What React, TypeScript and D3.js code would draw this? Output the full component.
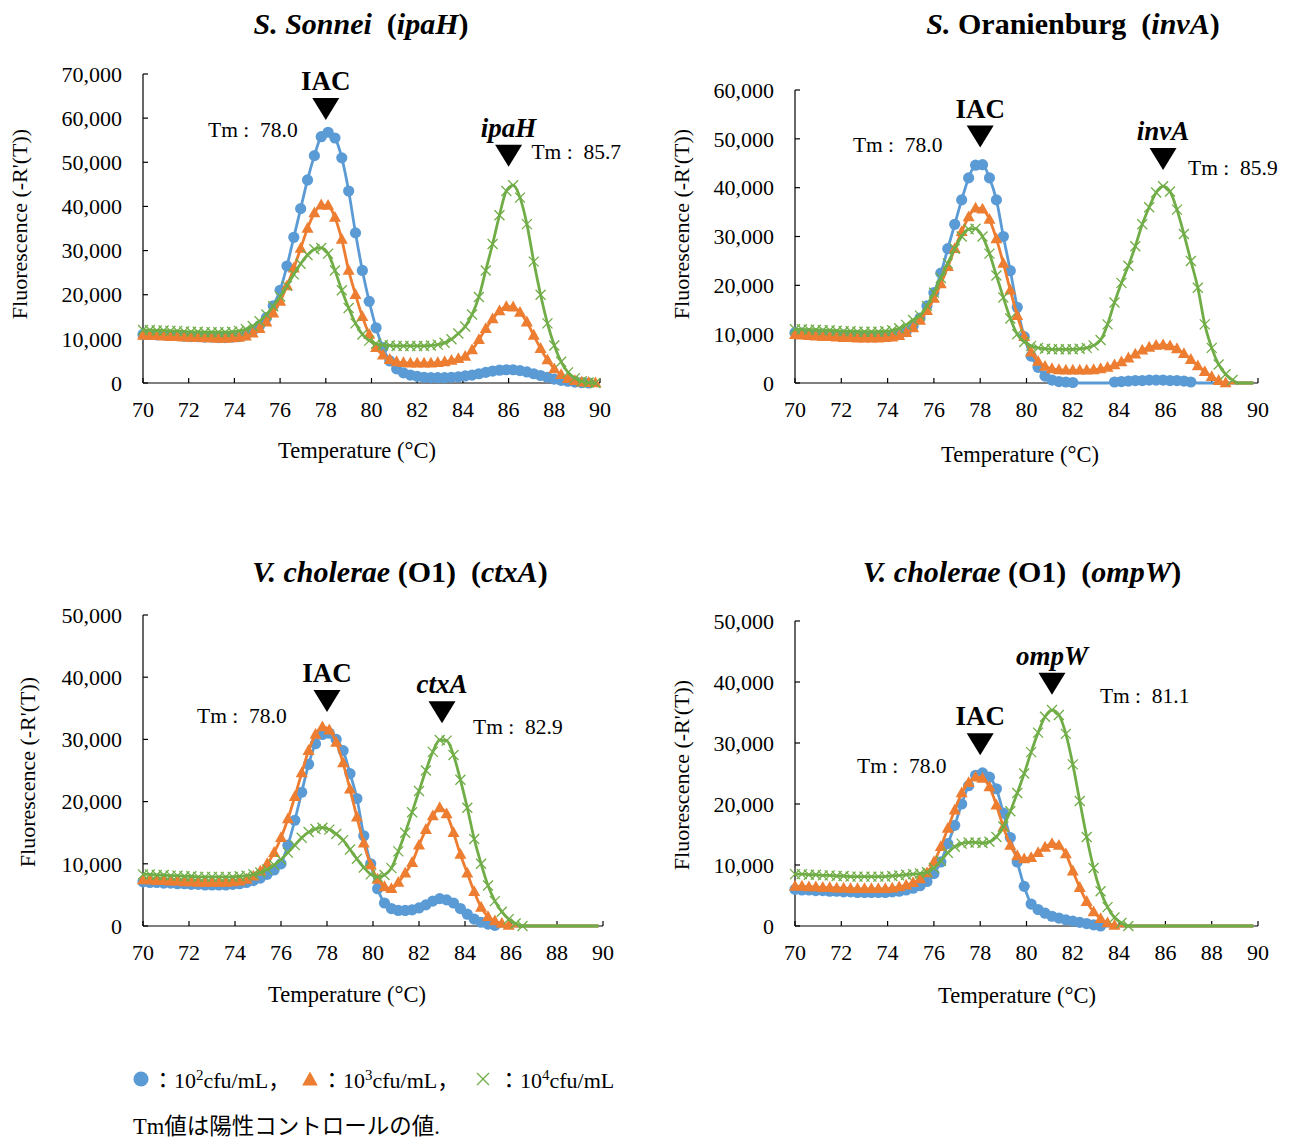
import React from 'react'
import * as d3 from 'd3'

// melt curve read every 0.3 °C, 70.0 .. 89.8
const temps = d3.range(67).map(i => Math.round((70 + i * 0.3) * 10) / 10)
const xTicks = d3.range(70, 91, 2)

// -R'(T) values in thousands
const sonneiBlue = [
  11.0, 11.0, 10.9, 10.9, 10.8, 10.7, 10.6, 10.5, 10.5, 10.4,
  10.4, 10.3, 10.3, 10.4, 10.5, 10.9, 11.8, 13.0, 14.8, 17.5,
  21.0, 26.5, 33.0, 39.5, 46.0, 51.5, 55.8, 56.8, 55.5, 51.0,
  43.5, 34.0, 25.5, 18.5, 12.5, 8.0, 5.0, 3.2, 2.3, 1.8,
  1.5, 1.3, 1.2, 1.2, 1.2, 1.3, 1.4, 1.6, 1.8, 2.1,
  2.4, 2.7, 2.9, 3.0, 3.0, 2.8, 2.5, 2.1, 1.7, 1.3,
  0.9, 0.6, 0.4, 0.2, 0.1, 0.0, -0.1,
]
const sonneiOrange = [
  10.8, 10.8, 10.7, 10.6, 10.5, 10.5, 10.4, 10.3, 10.3, 10.2,
  10.2, 10.1, 10.1, 10.2, 10.3, 10.6, 11.3, 12.3, 13.8, 15.8,
  18.5, 22.0, 26.0, 30.5, 35.0, 38.5, 40.3, 40.2, 37.5, 32.5,
  25.5, 20.0, 15.0, 11.0, 8.0, 6.3, 5.3, 4.8, 4.6, 4.5,
  4.5, 4.5, 4.5, 4.6, 4.8, 5.1, 5.5, 6.0, 7.5, 9.8,
  12.3, 14.5, 16.3, 17.3, 17.2, 16.0, 13.8, 10.8, 7.8, 5.2,
  3.2, 1.9, 1.0, 0.5, 0.2, 0.1, 0.0,
]
const sonneiGreen = [
  12.0, 12.0, 11.9, 11.9, 11.8, 11.8, 11.7, 11.6, 11.6, 11.5,
  11.5, 11.5, 11.5, 11.6, 11.8, 12.2, 12.9, 14.0, 15.5, 17.4,
  19.6, 22.0, 24.6, 27.0, 29.0, 30.3, 30.6, 29.3, 25.5, 21.0,
  17.0, 13.5, 11.0, 9.6, 8.9, 8.6, 8.5, 8.4, 8.4, 8.4,
  8.4, 8.4, 8.5, 8.7, 9.1, 9.9, 11.2, 12.8, 15.5, 19.5,
  25.5, 31.5, 38.0, 43.5, 44.8, 42.0, 36.0, 27.5, 20.0, 13.5,
  8.5, 4.8, 2.4, 1.1, 0.4, 0.1, 0.0,
]

const oranienburgBlue = [
  10.3, 10.2, 10.1, 10.0, 10.0, 9.9, 9.8, 9.8, 9.7, 9.7,
  9.6, 9.6, 9.6, 9.6, 9.7, 9.9, 10.5, 11.6, 13.3, 15.8,
  18.5, 22.5, 27.5, 32.5, 37.5, 42.0, 44.6, 44.7, 42.0, 37.5,
  30.0, 23.0, 15.5, 9.5, 5.5, 3.2, 1.4, 0.6, 0.3, 0.2,
  0.1, -0.1, -0.3, -0.4, -0.3, -0.1, 0.2, 0.3, 0.4, 0.5,
  0.5, 0.6, 0.6, 0.6, 0.5, 0.5, 0.4, 0.2, -0.1, -0.3,
  -0.5, -0.6, -0.7, -0.7, -0.7, -0.6, -0.6,
]
const oranienburgOrange = [
  9.9, 9.8, 9.7, 9.6, 9.5, 9.5, 9.4, 9.3, 9.3, 9.2,
  9.2, 9.2, 9.2, 9.3, 9.4, 9.7, 10.3, 11.3, 12.8, 14.8,
  17.3, 20.3, 23.8, 27.5, 31.0, 34.0, 35.8, 35.6, 33.5, 29.5,
  24.5, 19.0, 13.8, 9.5, 6.3, 4.4, 3.4, 2.9, 2.7, 2.6,
  2.6, 2.6, 2.6, 2.7, 2.9, 3.2, 3.7, 4.3, 5.1, 5.9,
  6.7, 7.3, 7.7, 7.8, 7.6, 7.0, 6.0, 4.8, 3.5, 2.3,
  1.3, 0.5, 0.0, -0.3, -0.5, -0.6, -0.6,
]
const oranienburgGreen = [
  11.0, 11.0, 10.9, 10.9, 10.8, 10.8, 10.7, 10.6, 10.6, 10.5,
  10.5, 10.5, 10.5, 10.6, 10.8, 11.2, 11.9, 12.9, 13.8, 15.8,
  18.5, 21.5, 24.5, 27.5, 30.0, 31.5, 31.6, 30.0, 26.5, 22.0,
  17.5, 13.2, 10.0, 8.4, 7.6, 7.2, 7.0, 6.9, 6.9, 6.9,
  6.9, 7.0, 7.2, 7.7, 8.8, 12.0, 16.5, 20.5, 24.0, 28.0,
  32.5, 36.0, 39.0, 40.3, 39.2, 35.5, 30.5, 25.0, 19.5, 12.0,
  7.2, 3.8, 1.8, 0.6, -0.1, -0.6, -0.9,
]

const ctxBlue = [
  7.1, 7.0, 7.0, 6.9, 6.9, 6.8, 6.8, 6.7, 6.7, 6.6,
  6.6, 6.6, 6.6, 6.7, 6.8, 7.0, 7.3, 7.7, 8.3, 9.0,
  10.0, 13.0, 17.0, 21.5, 26.0, 29.3, 30.8, 31.0, 30.0, 28.2,
  24.5, 20.5, 14.5, 10.0, 6.0, 3.7, 2.8, 2.5, 2.5, 2.6,
  2.9, 3.4, 4.0, 4.4, 4.2, 3.7, 2.8, 1.9, 1.1, 0.6,
  0.3, 0.1, -0.1, -0.3, -0.4, -0.5, -0.5, -0.5, -0.5, -0.5,
  -0.5, -0.5, -0.5, -0.5, -0.5, -0.5, -0.5,
]
const ctxOrange = [
  7.4, 7.4, 7.3, 7.3, 7.2, 7.2, 7.1, 7.1, 7.0, 7.0,
  7.0, 7.0, 7.0, 7.1, 7.2, 7.5, 8.0, 8.8, 10.0, 11.8,
  14.2, 17.2, 20.8, 24.6, 28.2, 30.8, 32.0, 31.5, 29.5, 26.2,
  22.0, 17.5, 13.3, 9.8, 7.5, 6.3, 6.0, 7.0, 8.5, 10.2,
  13.0, 15.5, 17.7, 19.0, 18.0, 15.0, 11.5, 8.5, 5.5, 3.0,
  1.5, 0.8, 0.4, 0.1, -0.1, -0.2, -0.3, -0.3, -0.3, -0.3,
  -0.3, -0.3, -0.3, -0.3, -0.3, -0.3, -0.3,
]
const ctxGreen = [
  8.3, 8.3, 8.2, 8.2, 8.1, 8.1, 8.0, 8.0, 7.9, 7.9,
  7.9, 7.9, 7.9, 7.9, 8.0, 8.1, 8.3, 8.6, 9.1, 9.8,
  10.7, 11.8, 13.0, 14.2, 15.1, 15.6, 15.8, 15.5, 14.8, 13.8,
  12.3, 10.8, 9.4, 8.3, 7.9, 8.2, 9.3, 12.0, 15.0, 18.3,
  21.7, 25.0, 28.0, 29.9, 29.8, 27.5, 23.5, 19.0, 14.0, 10.0,
  6.5, 4.0, 2.3, 1.1, 0.4, 0.0, -0.3, -0.5, -0.6, -0.6,
  -0.6, -0.6, -0.6, -0.6, -0.6, -0.6, -0.6,
]

const ompBlue = [
  6.0, 5.9, 5.9, 5.8, 5.8, 5.7, 5.7, 5.6, 5.6, 5.5,
  5.5, 5.5, 5.5, 5.5, 5.6, 5.7, 5.9, 6.2, 6.6, 7.3,
  8.6, 10.5, 13.5, 16.5, 20.0, 23.0, 24.7, 25.1, 24.4, 22.5,
  18.5, 14.5, 10.5, 6.5, 3.6, 2.7, 2.1, 1.6, 1.3, 1.0,
  0.8, 0.6, 0.4, 0.2, 0.0, -0.2, -0.3, -0.3, -0.3, -0.3,
  -0.3, -0.3, -0.3, -0.3, -0.3, -0.3, -0.3, -0.3, -0.3, -0.3,
  -0.3, -0.3, -0.3, -0.3, -0.3, -0.3, -0.3,
]
const ompOrange = [
  6.5, 6.5, 6.4, 6.4, 6.3, 6.3, 6.2, 6.2, 6.1, 6.1,
  6.1, 6.1, 6.1, 6.1, 6.2, 6.4, 6.7, 7.1, 7.7, 8.7,
  10.5, 13.0, 16.0, 19.0, 21.8, 23.5, 24.4, 24.2, 22.8, 19.8,
  16.2, 13.2, 11.5, 11.0, 11.2, 12.0, 12.9, 13.5, 13.2, 11.8,
  9.0, 6.3, 4.0, 2.3, 1.2, 0.5, 0.1, -0.1, -0.2, -0.2,
  -0.2, -0.2, -0.2, -0.2, -0.2, -0.2, -0.2, -0.2, -0.2, -0.2,
  -0.2, -0.2, -0.2, -0.2, -0.2, -0.2, -0.2,
]
const ompGreen = [
  8.5, 8.5, 8.4, 8.4, 8.3, 8.3, 8.2, 8.2, 8.1, 8.1,
  8.1, 8.1, 8.1, 8.1, 8.2, 8.3, 8.4, 8.5, 8.6, 8.8,
  9.5, 10.7, 12.0, 13.0, 13.5, 13.7, 13.7, 13.6, 13.8, 14.6,
  16.3, 18.8, 21.8, 25.0, 28.5, 31.7, 34.3, 35.4, 34.6, 31.5,
  26.5, 20.5, 14.6, 9.5, 5.7, 3.1, 1.4, 0.5, 0.0, -0.3,
  -0.4, -0.4, -0.4, -0.4, -0.4, -0.4, -0.4, -0.4, -0.4, -0.4,
  -0.4, -0.4, -0.4, -0.4, -0.4, -0.4, -0.4,
]

const BLUE = '#5B9BD5'
const ORANGE = '#ED7D31'
const GREEN = '#70AD47'
const SERIF = "'Liberation Serif', 'Times New Roman', 'Noto Sans CJK JP', serif"
const kinds = ['circle', 'triangle', 'cross']
const colors = [BLUE, ORANGE, GREEN]

const panels = [
  {
    title: [{ t: 'S. Sonnei', i: true }, { t: '\u00a0 (', i: false }, { t: 'ipaH', i: true }, { t: ')', i: false }],
    titleX: 361, titleY: 34,
    series: [sonneiBlue, sonneiOrange, sonneiGreen],
    x0: 143, x1: 600, y0: 74, y1: 383, yMax: 70,
    yTitleX: 19, yTitleY: 224, xTitleX: 357, xTitleY: 458,
    marks: [
      { label: 'IAC', italic: false, t: 78.0, tip: 59.6, tm: '78.0', tmT: 72.85, tmV: 55.8 },
      { label: 'ipaH', italic: true, t: 86.0, tip: 49.0, tm: '85.7', tmT: 87.0, tmV: 50.8 },
    ],
  },
  {
    title: [{ t: 'S.', i: true }, { t: ' Oranienburg\u00a0 (', i: false }, { t: 'invA', i: true }, { t: ')', i: false }],
    titleX: 1073, titleY: 34,
    series: [oranienburgBlue, oranienburgOrange, oranienburgGreen],
    x0: 795, x1: 1258, y0: 90, y1: 383, yMax: 60,
    yTitleX: 681, yTitleY: 224, xTitleX: 1020, xTitleY: 462,
    marks: [
      { label: 'IAC', italic: false, t: 78.0, tip: 48.2, tm: '78.0', tmT: 72.5, tmV: 47.3 },
      { label: 'invA', italic: true, t: 85.9, tip: 43.6, tm: '85.9', tmT: 86.98, tmV: 42.6 },
    ],
  },
  {
    title: [{ t: 'V. cholerae', i: true }, { t: ' (O1)\u00a0 (', i: false }, { t: 'ctxA', i: true }, { t: ')', i: false }],
    titleX: 400, titleY: 582,
    series: [ctxBlue, ctxOrange, ctxGreen],
    x0: 143, x1: 603, y0: 615, y1: 926, yMax: 50,
    yTitleX: 27, yTitleY: 772, xTitleX: 347, xTitleY: 1002,
    marks: [
      { label: 'IAC', italic: false, t: 78.0, tip: 34.4, tm: '78.0', tmT: 72.35, tmV: 32.6 },
      { label: 'ctxA', italic: true, t: 83.0, tip: 32.6, tm: '82.9', tmT: 84.35, tmV: 30.9 },
    ],
  },
  {
    title: [{ t: 'V. cholerae', i: true }, { t: ' (O1)\u00a0 (', i: false }, { t: 'ompW', i: true }, { t: ')', i: false }],
    titleX: 1022, titleY: 582,
    series: [ompBlue, ompOrange, ompGreen],
    x0: 795, x1: 1258, y0: 621, y1: 926, yMax: 50,
    yTitleX: 681, yTitleY: 775, xTitleX: 1017, xTitleY: 1003,
    marks: [
      { label: 'ompW', italic: true, t: 81.1, tip: 37.9, tm: '81.1', tmT: 83.17, tmV: 36.6 },
      { label: 'IAC', italic: false, t: 78.0, tip: 28.0, tm: '78.0', tmT: 72.68, tmV: 25.1 },
    ],
  },
]

function Marker({ kind, cx, cy, color, scale = 1 }) {
  if (kind === 'circle') return <circle cx={cx} cy={cy} r={5.6 * scale} fill={color} />
  if (kind === 'triangle') {
    const s = 12 * scale
    const h = s * 0.9
    return <path d={`M${cx},${cy - h * 0.6}L${cx + s / 2},${cy + h * 0.4}L${cx - s / 2},${cy + h * 0.4}Z`} fill={color} />
  }
  const r = 5 * scale
  return (
    <path d={`M${cx - r},${cy - r}L${cx + r},${cy + r}M${cx - r},${cy + r}L${cx + r},${cy - r}`}
      stroke={color} strokeWidth={1.3} fill="none" />
  )
}

function Panel({ p, idx }) {
  const x = d3.scaleLinear().domain([70, 90]).range([p.x0, p.x1])
  const y = d3.scaleLinear().domain([0, p.yMax]).range([p.y1, p.y0])
  const yTicks = d3.range(0, p.yMax + 1, 10)
  const fmt = d3.format(',')
  const line = d3.line()
    .x((_, i) => x(temps[i]))
    .y(v => y(Math.max(v, 0)))
    .curve(d3.curveMonotoneX)
  const clipId = `plot-clip-${idx}`

  return (
    <g>
      <defs>
        <clipPath id={clipId}>
          <rect x={p.x0} y={p.y0 - 20} width={p.x1 - p.x0 + 2} height={p.y1 - p.y0 + 22} />
        </clipPath>
      </defs>
      <text x={p.titleX} y={p.titleY} textAnchor="middle" fontFamily={SERIF} fontSize={30} fontWeight="bold">
        {p.title.map((s, k) => <tspan key={k} fontStyle={s.i ? 'italic' : 'normal'}>{s.t}</tspan>)}
      </text>

      {/* axes */}
      <line x1={p.x0} x2={p.x0} y1={p.y0} y2={p.y1} stroke="#000" strokeWidth={1.2} />
      <line x1={p.x0} x2={p.x1} y1={p.y1} y2={p.y1} stroke="#000" strokeWidth={1.2} />
      {yTicks.map(t => (
        <g key={t}>
          <line x1={p.x0} x2={p.x0 + 5} y1={y(t)} y2={y(t)} stroke="#000" strokeWidth={1.2} />
          <text x={p.x0 - 21} y={y(t)} dy="0.35em" textAnchor="end" fontFamily={SERIF} fontSize={22}>{fmt(t * 1000)}</text>
        </g>
      ))}
      {xTicks.map(t => (
        <g key={t}>
          <line x1={x(t)} x2={x(t)} y1={p.y1} y2={p.y1 - 5} stroke="#000" strokeWidth={1.2} />
          <text x={x(t)} y={p.y1 + 34} textAnchor="middle" fontFamily={SERIF} fontSize={22}>{t}</text>
        </g>
      ))}
      <text x={p.xTitleX} y={p.xTitleY} textAnchor="middle" fontFamily={SERIF} fontSize={22.5}>Temperature (°C)</text>
      <text transform={`translate(${p.yTitleX},${p.yTitleY}) rotate(-90)`} dy="0.35em" textAnchor="middle"
        fontFamily={SERIF} fontSize={22}>Fluorescence (-R'(T))</text>

      {/* series */}
      {p.series.map((vals, s) => (
        <g key={s}>
          <path d={line(vals)} fill="none" stroke={colors[s]} strokeWidth={2.8} clipPath={`url(#${clipId})`} />
          {vals.map((v, i) => v >= 0 && (
            <Marker key={i} kind={kinds[s]} cx={x(temps[i])} cy={y(v)} color={colors[s]} />
          ))}
        </g>
      ))}

      {/* peak annotations */}
      {p.marks.map((m, k) => {
        const tx = x(m.t)
        const ty = y(m.tip)
        return (
          <g key={k}>
            <path d={`M${tx},${ty}L${tx + 13.5},${ty - 22}L${tx - 13.5},${ty - 22}Z`} fill="#000" />
            <text x={tx} y={ty - 30} textAnchor="middle" fontFamily={SERIF} fontSize={27} fontWeight="bold"
              fontStyle={m.italic ? 'italic' : 'normal'}>{m.label}</text>
            <text x={x(m.tmT)} y={y(m.tmV)} fontFamily={SERIF} fontSize={21.5}>{`Tm\u00a0:\u00a0 ${m.tm}`}</text>
          </g>
        )
      })}
    </g>
  )
}

function Sup({ base, exp, rest }) {
  return (
    <>
      <tspan>{base}</tspan>
      <tspan fontSize={15} dy={-8}>{exp}</tspan>
      <tspan dy={8}>{rest}</tspan>
    </>
  )
}

export default function App() {
  return (
    <svg width={1294} height={1139} style={{ display: 'block', position: 'absolute', left: 0, top: 0, background: '#fff' }}>
      <rect width={1294} height={1139} fill="#fff" />
      {panels.map((p, i) => <Panel key={i} p={p} idx={i} />)}

      {/* legend */}
      <Marker kind="circle" cx={141} cy={1079} color={BLUE} scale={1.35} />
      <text x={152} y={1088} fontFamily={SERIF} fontSize={22}>
        <Sup base="：10" exp="2" rest="cfu/mL，" />
      </text>
      <Marker kind="triangle" cx={310} cy={1080} color={ORANGE} scale={1.3} />
      <text x={321} y={1088} fontFamily={SERIF} fontSize={22}>
        <Sup base="：10" exp="3" rest="cfu/mL，" />
      </text>
      <Marker kind="cross" cx={483} cy={1079} color={GREEN} scale={1.2} />
      <text x={498} y={1088} fontFamily={SERIF} fontSize={22}>
        <Sup base="：10" exp="4" rest="cfu/mL" />
      </text>
      <text x={133} y={1134} fontFamily={SERIF} fontSize={22.5}>Tm値は陽性コントロールの値.</text>
    </svg>
  )
}
